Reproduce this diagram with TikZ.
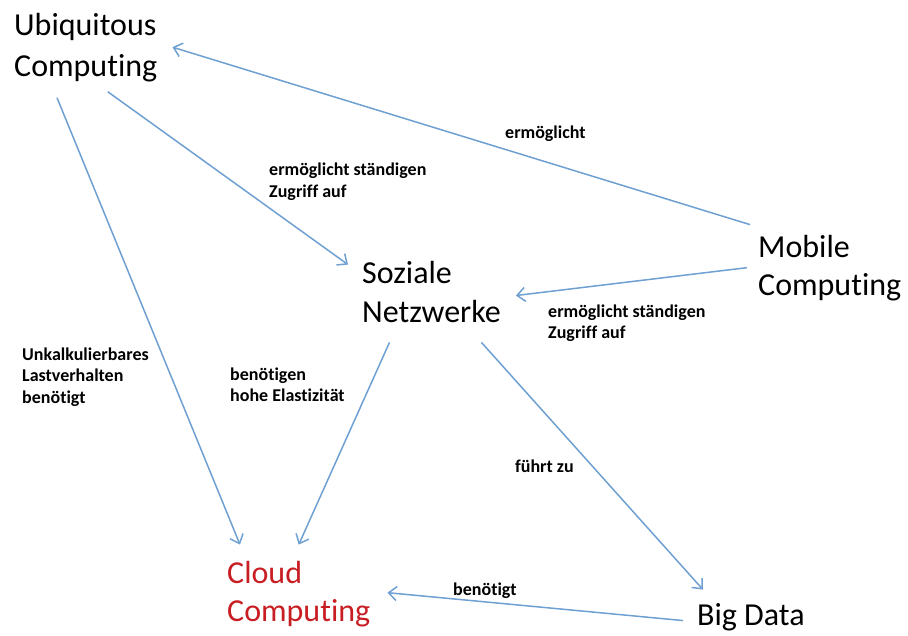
\documentclass[tikz,border=0pt]{standalone}
\usepackage{fontspec}
\setmainfont{Carlito}[Ligatures=NoCommon]
\usetikzlibrary{arrows.meta}

\definecolor{linkblue}{RGB}{110,160,210}
\definecolor{cloudred}{RGB}{200,30,35}

\tikzset{
  concept/.style={anchor=north west,inner sep=0pt,align=left,
                  font=\fontsize{32}{38}\selectfont},
  note/.style={anchor=north west,inner sep=0pt,align=left,
               font=\bfseries\fontsize{18}{21.5}\selectfont},
  link/.style={draw=linkblue,line width=1.5pt,
               -{Straight Barb[length=8pt,width=14pt]}}
}

\begin{document}
\begin{tikzpicture}[x=1pt,y=-1pt]
		\useasboundingbox (0,0) rectangle (908,635);
		% Begriffe
		\node[concept] (ubi) at (14,12.6) {Ubiquitous\\[3pt]Computing};
		\node[concept] (sozial) at (362,260.6) {Soziale\\[1pt]Netzwerke};
		\node[concept] (mobile) at (758,234.6) {Mobile\\Computing};
		\node[concept,text=cloudred] (cloud) at (227,560.6) {Cloud\\Computing};
		\node[concept] (bigdata) at (697,603.6) {Big Data};
		% Beziehungen
		\draw[link] ([xshift=-8pt,yshift=10pt]mobile.north west) -- ([xshift=15pt]ubi.east);
		\draw[link] ([xshift=22pt,yshift=-10pt]ubi.south) -- ([xshift=-14pt,yshift=-4pt]sozial.north west);
		\draw[link] ([xshift=-11pt]mobile.west) -- ([xshift=15pt,yshift=-4pt]sozial.east);
		\draw[link] ([xshift=43pt,yshift=-16pt]ubi.south west) -- ([xshift=13pt,yshift=16pt]cloud.north west);
		\draw[link] ([xshift=-42pt,yshift=-20pt]sozial.south) -- ([yshift=16pt]cloud.north);
		\draw[link] ([xshift=50pt,yshift=-20pt]sozial.south) -- ([xshift=6pt,yshift=14pt]bigdata.north west);
		\draw[link] ([xshift=-14pt,yshift=-3pt]bigdata.west) -- ([xshift=17pt,yshift=1pt]cloud.east);
		% Beschriftungen
		\node[note] (lblMU) at (505,125.5) {ermöglicht};
		\node[note] (lblUS) at (269,162.5) {ermöglicht ständigen\\[1pt]Zugriff auf};
		\node[note] (lblMS) at (548,304.5) {ermöglicht ständigen\\Zugriff auf};
		\node[note] (lblUC) at (22,347.5) {Unkalkulierbares\\Lastverhalten\\benötigt};
		\node[note] (lblSC) at (230,367.5) {benötigen\\hohe Elastizität};
		\node[note] (lblSB) at (515,459.5) {führt zu};
		\node[note] (lblBC) at (453,582.5) {benötigt};
\end{tikzpicture}
\end{document}
